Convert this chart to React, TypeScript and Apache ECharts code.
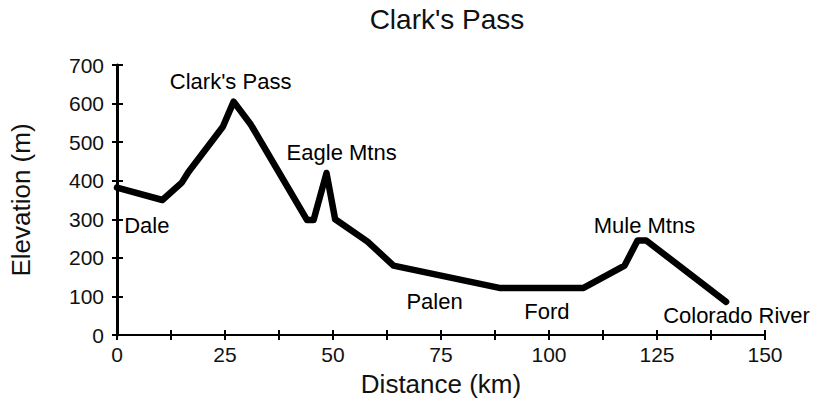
import React, { useEffect, useRef } from "react";
import * as echarts from "echarts";

const titleText = "Clark's Pass";
const xName = "Distance (km)";
const yName = "Elevation (m)";

const distanceKm = [0, 10.5, 15, 16.5, 24.5, 27, 31, 44, 45.5, 48.5, 50.5, 58, 64, 88.5, 108, 117.5, 120.5, 122.5, 141];
const elevationM = [382, 350, 395, 422, 540, 605, 545, 298, 298, 420, 300, 242, 180, 122, 122, 180, 245, 245, 86];

const placeNames = ["Clark's Pass", "Eagle Mtns", "Dale", "Palen", "Ford", "Mule Mtns", "Colorado River"];
const placeX = [26.3, 52, 6.9, 73.5, 99.5, 122.1, 143.4];
const placeY = [658, 472, 285, 87, 61, 285, 50];

const xMin = 0;
const xMax = 150;
const xStep = 12.5;
const xLabelStep = 25;
const yMin = 0;
const yMax = 700;
const yStep = 100;

const FONT = "'Liberation Sans', Arial, Helvetica, sans-serif";

export default function App() {
  const ref = useRef<HTMLDivElement>(null);
  useEffect(() => {
    if (!ref.current) return;
    const chart = echarts.init(ref.current, null, { renderer: "svg" });
    const lineData = distanceKm.map((d, i) => [d, elevationM[i]]);
    const labelData = placeNames.map((n, i) => ({ value: [placeX[i], placeY[i]], name: n }));
    const tickLabelStyle = { color: "#111", fontSize: 21, fontFamily: FONT };
    chart.setOption({
      animation: false,
      backgroundColor: "#ffffff",
      title: {
        text: titleText,
        left: 442,
        top: 0,
        textAlign: "center",
        textStyle: { fontSize: 28, fontWeight: "normal", color: "#111", fontFamily: FONT },
      },
      grid: { left: 117, right: 50, top: 65, bottom: 67, containLabel: false },
      xAxis: [
        {
          type: "value",
          min: xMin,
          max: xMax,
          interval: xStep,
          position: "bottom",
          name: xName,
          nameLocation: "middle",
          nameGap: 36,
          nameTextStyle: { fontSize: 26, color: "#111", fontFamily: FONT },
          axisLine: { show: true, onZero: false, lineStyle: { color: "#000", width: 2 } },
          axisTick: { show: true, inside: false, length: 5, lineStyle: { color: "#000", width: 2 } },
          axisLabel: {
            ...tickLabelStyle,
            margin: 9,
            formatter: (v: number) => (v % xLabelStep === 0 ? String(v) : ""),
          },
          splitLine: { show: false },
        },
        {
          type: "value",
          min: xMin,
          max: xMax,
          interval: xStep,
          position: "bottom",
          axisLine: { show: false, onZero: false },
          axisTick: { show: true, inside: true, length: 5, lineStyle: { color: "#000", width: 2 } },
          axisLabel: { show: false },
          splitLine: { show: false },
        },
      ],
      yAxis: [
        {
          type: "value",
          min: yMin,
          max: yMax,
          interval: yStep,
          position: "left",
          name: yName,
          nameLocation: "middle",
          nameGap: 83,
          nameTextStyle: { fontSize: 26, color: "#111", fontFamily: FONT },
          axisLine: { show: true, onZero: false, lineStyle: { color: "#000", width: 3 } },
          axisTick: { show: true, inside: false, length: 5, lineStyle: { color: "#000", width: 2 } },
          axisLabel: { ...tickLabelStyle, margin: 13 },
          splitLine: { show: false },
        },
        {
          type: "value",
          min: yMin,
          max: yMax,
          interval: yStep,
          position: "left",
          axisLine: { show: false, onZero: false },
          axisTick: { show: true, inside: true, length: 6, lineStyle: { color: "#000", width: 2 } },
          axisLabel: { show: false },
          splitLine: { show: false },
        },
      ],
      series: [
        {
          type: "line",
          data: lineData,
          xAxisIndex: 0,
          yAxisIndex: 0,
          symbol: "none",
          clip: false,
          lineStyle: { color: "#000", width: 6.5, join: "round", cap: "round" },
        },
        {
          type: "scatter",
          data: labelData,
          xAxisIndex: 0,
          yAxisIndex: 0,
          symbolSize: 0,
          silent: true,
          itemStyle: { opacity: 1 },
          label: {
            show: true,
            position: "inside",
            formatter: (p: any) => p.name,
            fontSize: 22,
            color: "#000",
            opacity: 1,
            fontFamily: FONT,
          },
        },
      ],
    });
    return () => chart.dispose();
  }, []);
  return <div ref={ref} style={{ position: "fixed", left: 0, top: 0, width: 815, height: 402 }} />;
}
